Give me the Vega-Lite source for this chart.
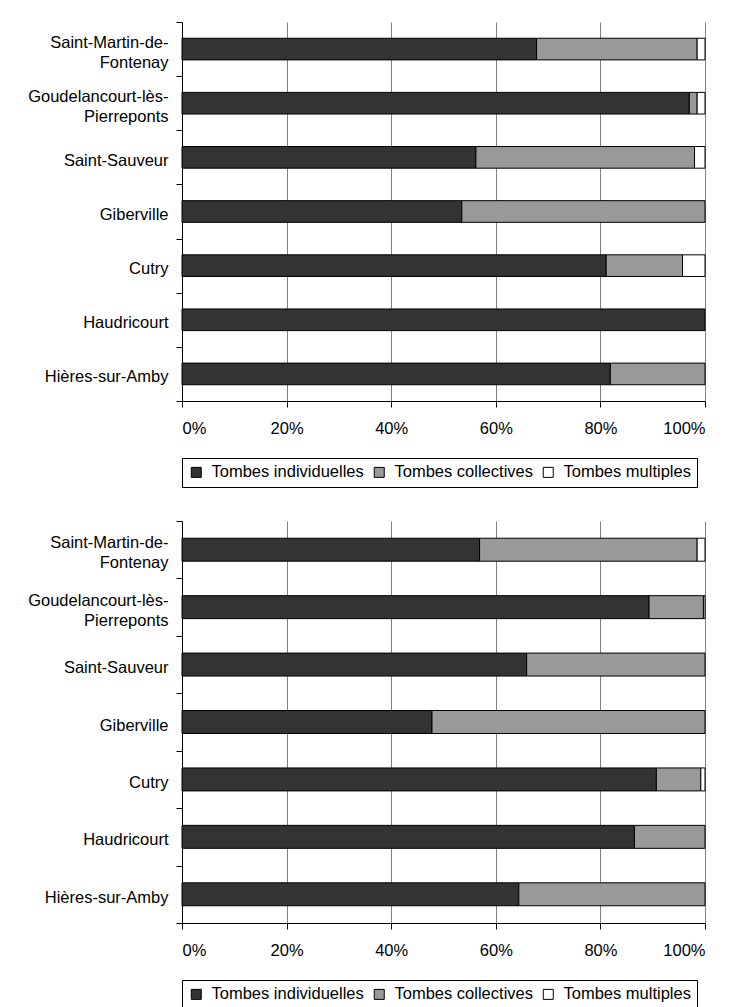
{
  "$schema": "https://vega.github.io/schema/vega-lite/v6.json",
  "background": "white",
  "padding": {"left": 8, "top": 14, "right": 10, "bottom": 5},
  "spacing": 25,
  "config": {
    "font": "Liberation Sans",
    "view": {"stroke": null},
    "axis": {
      "labelFont": "Liberation Sans",
      "labelFontSize": 16.5,
      "labelColor": "black",
      "title": null,
      "domainColor": "black",
      "domainWidth": 1,
      "tickColor": "black",
      "tickSize": 6
    },
    "legend": {
      "orient": "bottom",
      "direction": "horizontal",
      "title": null,
      "strokeColor": "black",
      "padding": 6,
      "offset": 21,
      "symbolType": "square",
      "symbolSize": 100,
      "symbolStrokeColor": "black",
      "symbolStrokeWidth": 1,
      "symbolOpacity": 1,
      "labelFont": "Liberation Sans",
      "labelFontSize": 16.5,
      "labelColor": "black",
      "labelOffset": 7,
      "columnPadding": 7
    }
  },
  "resolve": {"legend": {"color": "independent"}},
  "datasets": {
    "p1": [
      {"site": "Saint-Martin-de-Fontenay", "type": "Tombes individuelles", "k": 1, "pct": 67.8},
      {"site": "Saint-Martin-de-Fontenay", "type": "Tombes collectives", "k": 2, "pct": 30.7},
      {"site": "Saint-Martin-de-Fontenay", "type": "Tombes multiples", "k": 3, "pct": 1.5},
      {"site": "Goudelancourt-lès-Pierreponts", "type": "Tombes individuelles", "k": 1, "pct": 97.0},
      {"site": "Goudelancourt-lès-Pierreponts", "type": "Tombes collectives", "k": 2, "pct": 1.5},
      {"site": "Goudelancourt-lès-Pierreponts", "type": "Tombes multiples", "k": 3, "pct": 1.5},
      {"site": "Saint-Sauveur", "type": "Tombes individuelles", "k": 1, "pct": 56.2},
      {"site": "Saint-Sauveur", "type": "Tombes collectives", "k": 2, "pct": 41.8},
      {"site": "Saint-Sauveur", "type": "Tombes multiples", "k": 3, "pct": 2.0},
      {"site": "Giberville", "type": "Tombes individuelles", "k": 1, "pct": 53.5},
      {"site": "Giberville", "type": "Tombes collectives", "k": 2, "pct": 46.5},
      {"site": "Cutry", "type": "Tombes individuelles", "k": 1, "pct": 81.1},
      {"site": "Cutry", "type": "Tombes collectives", "k": 2, "pct": 14.6},
      {"site": "Cutry", "type": "Tombes multiples", "k": 3, "pct": 4.3},
      {"site": "Haudricourt", "type": "Tombes individuelles", "k": 1, "pct": 100},
      {"site": "Hières-sur-Amby", "type": "Tombes individuelles", "k": 1, "pct": 81.9},
      {"site": "Hières-sur-Amby", "type": "Tombes collectives", "k": 2, "pct": 18.1}
    ],
    "p2": [
      {"site": "Saint-Martin-de-Fontenay", "type": "Tombes individuelles", "k": 1, "pct": 56.9},
      {"site": "Saint-Martin-de-Fontenay", "type": "Tombes collectives", "k": 2, "pct": 41.6},
      {"site": "Saint-Martin-de-Fontenay", "type": "Tombes multiples", "k": 3, "pct": 1.5},
      {"site": "Goudelancourt-lès-Pierreponts", "type": "Tombes individuelles", "k": 1, "pct": 89.3},
      {"site": "Goudelancourt-lès-Pierreponts", "type": "Tombes collectives", "k": 2, "pct": 10.4},
      {"site": "Goudelancourt-lès-Pierreponts", "type": "Tombes multiples", "k": 3, "pct": 0.3},
      {"site": "Saint-Sauveur", "type": "Tombes individuelles", "k": 1, "pct": 65.9},
      {"site": "Saint-Sauveur", "type": "Tombes collectives", "k": 2, "pct": 34.1},
      {"site": "Giberville", "type": "Tombes individuelles", "k": 1, "pct": 47.8},
      {"site": "Giberville", "type": "Tombes collectives", "k": 2, "pct": 52.2},
      {"site": "Cutry", "type": "Tombes individuelles", "k": 1, "pct": 90.7},
      {"site": "Cutry", "type": "Tombes collectives", "k": 2, "pct": 8.5},
      {"site": "Cutry", "type": "Tombes multiples", "k": 3, "pct": 0.8},
      {"site": "Haudricourt", "type": "Tombes individuelles", "k": 1, "pct": 86.5},
      {"site": "Haudricourt", "type": "Tombes collectives", "k": 2, "pct": 13.5},
      {"site": "Hières-sur-Amby", "type": "Tombes individuelles", "k": 1, "pct": 64.4},
      {"site": "Hières-sur-Amby", "type": "Tombes collectives", "k": 2, "pct": 35.6}
    ]
  },
  "vconcat": [
    {
      "data": {"name": "p1"},
      "width": 523,
      "height": 379,
      "mark": {"type": "bar", "stroke": "black", "strokeWidth": 1, "height": {"band": 0.4}},
      "encoding": {
        "y": {
          "field": "site", "type": "nominal",
          "sort": ["Saint-Martin-de-Fontenay", "Goudelancourt-lès-Pierreponts", "Saint-Sauveur", "Giberville", "Cutry", "Haudricourt", "Hières-sur-Amby"],
          "scale": {"paddingInner": 0, "paddingOuter": 0},
          "axis": {
            "tickBand": "extent", "grid": false,
            "labelExpr": "datum.label == 'Saint-Martin-de-Fontenay' ? ['Saint-Martin-de-', 'Fontenay'] : datum.label == 'Goudelancourt-lès-Pierreponts' ? ['Goudelancourt-lès-', 'Pierreponts'] : datum.label",
            "labelBaseline": {"condition": {"test": "datum.value == 'Saint-Martin-de-Fontenay' || datum.value == 'Goudelancourt-lès-Pierreponts'", "value": "line-bottom"}, "value": "middle"},
            "labelLineHeight": 20, "labelPadding": 8, "labelOffset": 3,
            "minExtent": 174, "maxExtent": 174
          }
        },
        "x": {
          "field": "pct", "type": "quantitative", "stack": "normalize",
          "scale": {"domain": [0, 1]},
          "axis": {"values": [0, 0.2, 0.4, 0.6, 0.8, 1], "format": ".0%", "grid": true, "gridColor": "#808080", "gridWidth": 1, "labelPadding": 13}
        },
        "order": {"field": "k", "type": "quantitative", "sort": "ascending"},
        "color": {
          "field": "type", "type": "nominal",
          "sort": ["Tombes individuelles", "Tombes collectives", "Tombes multiples"],
          "scale": {"domain": ["Tombes individuelles", "Tombes collectives", "Tombes multiples"], "range": ["#333333", "#999999", "#ffffff"]}
        }
      }
    },
    {
      "data": {"name": "p2"},
      "width": 523,
      "height": 402,
      "mark": {"type": "bar", "stroke": "black", "strokeWidth": 1, "height": {"band": 0.4}},
      "encoding": {
        "y": {
          "field": "site", "type": "nominal",
          "sort": ["Saint-Martin-de-Fontenay", "Goudelancourt-lès-Pierreponts", "Saint-Sauveur", "Giberville", "Cutry", "Haudricourt", "Hières-sur-Amby"],
          "scale": {"paddingInner": 0, "paddingOuter": 0},
          "axis": {
            "tickBand": "extent", "grid": false,
            "labelExpr": "datum.label == 'Saint-Martin-de-Fontenay' ? ['Saint-Martin-de-', 'Fontenay'] : datum.label == 'Goudelancourt-lès-Pierreponts' ? ['Goudelancourt-lès-', 'Pierreponts'] : datum.label",
            "labelBaseline": {"condition": {"test": "datum.value == 'Saint-Martin-de-Fontenay' || datum.value == 'Goudelancourt-lès-Pierreponts'", "value": "line-bottom"}, "value": "middle"},
            "labelLineHeight": 20, "labelPadding": 8, "labelOffset": 3,
            "minExtent": 174, "maxExtent": 174
          }
        },
        "x": {
          "field": "pct", "type": "quantitative", "stack": "normalize",
          "scale": {"domain": [0, 1]},
          "axis": {"values": [0, 0.2, 0.4, 0.6, 0.8, 1], "format": ".0%", "grid": true, "gridColor": "#808080", "gridWidth": 1, "labelPadding": 13}
        },
        "order": {"field": "k", "type": "quantitative", "sort": "ascending"},
        "color": {
          "field": "type", "type": "nominal",
          "sort": ["Tombes individuelles", "Tombes collectives", "Tombes multiples"],
          "scale": {"domain": ["Tombes individuelles", "Tombes collectives", "Tombes multiples"], "range": ["#333333", "#999999", "#ffffff"]}
        }
      }
    }
  ]
}
